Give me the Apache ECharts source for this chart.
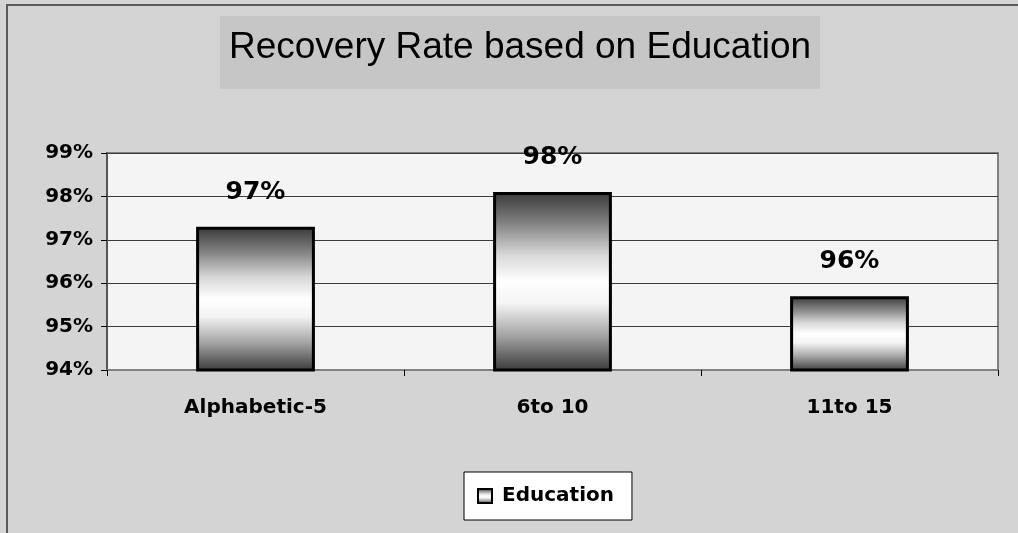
<!DOCTYPE html>
<html>
<head>
<meta charset="utf-8">
<title>Recovery Rate based on Education</title>
<script src="https://cdn.jsdelivr.net/npm/echarts@6/dist/echarts.min.js"></script>
<style>
  html, body { margin: 0; padding: 0; background: #d4d4d4; }
  #chart { width: 1018px; height: 533px; }
</style>
</head>
<body>
<div id="chart"></div>
<script>
// Education groups and their recovery rates (percent)
const categories = ['Alphabetic-5', '6to 10', '11to 15'];
const recoveryRates = [97.3, 98.1, 95.7];
const seriesName = 'Education';
const chartTitle = 'Recovery Rate based on Education';
const yMin = 94, yMax = 99, yStep = 1;

// Metallic cylinder-like shading: dark edges, white centre
const barShade = {
  type: 'linear', x: 0, y: 0, x2: 0, y2: 1,
  colorStops: [
    { offset: 0.00, color: '#383838' },
    { offset: 0.18, color: '#858585' },
    { offset: 0.35, color: '#d8d8d8' },
    { offset: 0.50, color: '#ffffff' },
    { offset: 0.62, color: '#f4f4f4' },
    { offset: 0.80, color: '#a4a4a4' },
    { offset: 1.00, color: '#383838' }
  ]
};

const boldFont = 'DejaVu Sans';

const chart = echarts.init(document.getElementById('chart'), null, { renderer: 'canvas' });

chart.setOption({
  backgroundColor: '#d4d4d4',
  animation: false,
  graphic: [
    // outer chart frame
    { type: 'rect', silent: true, z: -10,
      shape: { x: 7, y: 5, width: 1040, height: 560 },
      style: { fill: 'none', stroke: '#5a5a5a', lineWidth: 2 } },
    // title panel
    { type: 'rect', silent: true, z: -5,
      shape: { x: 220, y: 16, width: 600, height: 73 },
      style: { fill: '#c6c6c6' } },
    { type: 'text', silent: true, z: 5,
      style: { x: 520, y: 48, text: chartTitle, align: 'center', verticalAlign: 'middle',
               font: '37px "Liberation Sans", Arial, sans-serif', fill: '#000' } }
  ],
  grid: {
    left: 107, top: 153, right: 20, bottom: 163,
    show: true, backgroundColor: '#f4f4f4', borderColor: '#808080', borderWidth: 2
  },
  legend: {
    data: [seriesName],
    left: 464, top: 472,
    orient: 'horizontal',
    backgroundColor: '#ffffff',
    borderColor: '#000000', borderWidth: 1,
    padding: [14, 18, 14, 13],
    itemWidth: 14, itemHeight: 14,
    icon: 'rect',
    itemStyle: { borderColor: '#000', borderWidth: 2 },
    textStyle: { fontFamily: boldFont, fontWeight: 'bold', fontSize: 20, color: '#000', padding: [0, 0, 0, 5] }
  },
  xAxis: {
    type: 'category',
    data: categories,
    axisLine: { show: true, lineStyle: { color: '#808080', width: 2 } },
    axisTick: { show: true, alignWithLabel: false, length: 6, inside: false, lineStyle: { color: '#000', width: 1 } },
    axisLabel: { margin: 28, fontFamily: boldFont, fontWeight: 'bold', fontSize: 20, color: '#000' },
    splitLine: { show: false }
  },
  yAxis: {
    type: 'value',
    min: yMin, max: yMax, interval: yStep,
    axisLine: { show: true, lineStyle: { color: '#555', width: 2 } },
    axisTick: { show: true, length: 6, lineStyle: { color: '#000', width: 1 } },
    axisLabel: { margin: 14, formatter: '{value}%', fontFamily: boldFont, fontWeight: 'bold', fontSize: 20, color: '#000' },
    splitLine: { show: true, lineStyle: { color: '#3a3a3a', width: 1 } }
  },
  series: [{
    name: seriesName,
    type: 'bar',
    data: recoveryRates,
    barWidth: '40%',
    itemStyle: { color: barShade, borderColor: '#000', borderWidth: 3 },
    label: {
      show: true, position: 'top', distance: 22,
      formatter: p => Math.round(p.value) + '%',
      fontFamily: boldFont, fontWeight: 'bold', fontSize: 25, color: '#000'
    }
  }]
});
</script>
</body>
</html>
